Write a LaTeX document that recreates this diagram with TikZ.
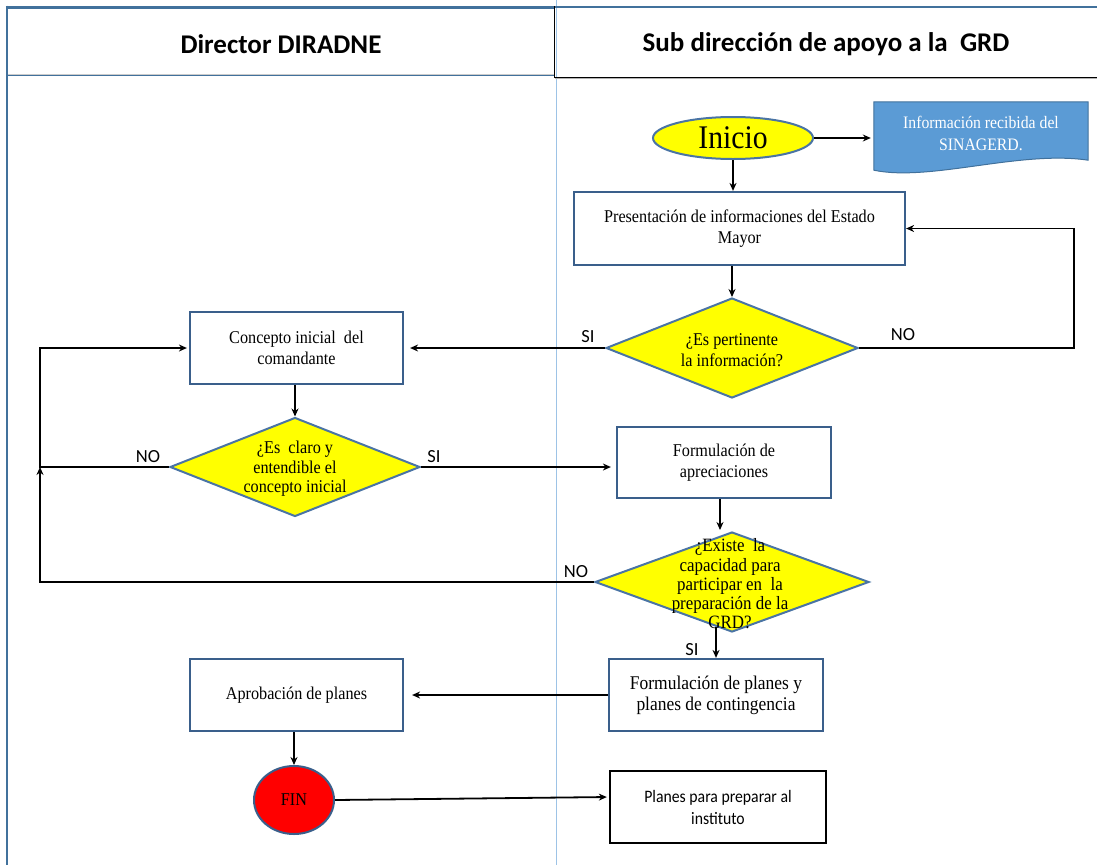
\documentclass[tikz,border=0pt]{standalone}
\usepackage{fontspec}
\setmainfont[FakeStretch=0.9]{Liberation Serif}
\newfontfamily\calfont{Carlito}
\newfontfamily\calnarrow[FakeStretch=0.9]{Carlito}
\usetikzlibrary{arrows.meta,shapes.geometric}

\definecolor{boxblue}{HTML}{3A5F8B}
\definecolor{dmdblue}{HTML}{4A74A4}
\definecolor{hdrblue}{HTML}{41719C}
\definecolor{docblue}{HTML}{5B9BD5}
\definecolor{laneblue}{HTML}{9DC3E6}
\definecolor{dyellow}{HTML}{FFFF00}

\tikzset{
  procbox/.style={draw=boxblue, line width=2.2pt, fill=white, inner sep=0pt,
    minimum width=#1, minimum height=72pt, align=center,
    font=\fontsize{18}{20.5}\selectfont},
  procbox/.default=214pt,
  decision/.style={diamond, draw=dmdblue, line width=2pt, fill=dyellow,
    inner sep=0pt},
  dtext/.style={align=center, inner sep=0pt, font=\fontsize{18}{20}\selectfont},
  flow/.style={line width=1.8pt, -{Stealth[length=8pt,width=7pt]}},
  branch/.style={inner sep=0pt, font=\calfont\fontsize{18.5}{20}\selectfont},
  lanehead/.style={inner sep=0pt, font=\calfont\bfseries\fontsize{27}{30}\selectfont},
}

\begin{document}
\begin{tikzpicture}[x=1pt, y=-1pt]
\useasboundingbox (0,0) rectangle (1097,865);

% ---- swimlane frame ----
\draw[laneblue, line width=1pt] (556,0) -- (556,865);
\draw[hdrblue, line width=2.5pt] (7,5.5) -- (7,865);
\draw[hdrblue, line width=3pt] (5.75,7.5) -- (555,7.5);
\draw[black!20, line width=1pt] (8,74) -- (555,74);
\draw[hdrblue, line width=1.2pt] (8,75.5) -- (555,75.5);
\draw[hdrblue, line width=2.5pt] (555,7) -- (1097,7);
\draw[black, line width=1pt] (554,6) -- (554,77) -- (1097,77);
\draw[black!30, line width=0.8pt] (555,78.5) -- (1097,78.5);

\node[lanehead] (h1) at (281,44) {Director DIRADNE};
\node[lanehead] (h2) at (826,44) {Sub dirección de apoyo a la\ \ GRD};

% ---- start and incoming document ----
\node[ellipse, draw=dmdblue, line width=2pt, fill=dyellow, inner sep=0pt,
      minimum width=160pt, minimum height=42pt,
      font=\fontsize{33}{35}\selectfont] (ini) at (733,138) {Inicio};

\node[inner sep=0pt, minimum width=214pt, minimum height=66pt] (doc) at (981,135) {};
\draw[draw=hdrblue, line width=1pt, fill=docblue]
  (doc.north west) -- (doc.north east) -- ([yshift=8pt]doc.south east)
  .. controls (1020,150) and (930,182) .. ([yshift=-2pt]doc.south west) -- cycle;
\node[align=center, text=white, inner sep=0pt,
      font=\fontsize{17.5}{22}\selectfont] (doct) at (981,133)
  {Información recibida del\\SINAGERD.};

% ---- process steps ----
\node[procbox=331pt, minimum height=73pt] (pres) at (739.5,228.5)
  {Presentación de informaciones del Estado\\Mayor};
\node[decision, minimum width=252pt, minimum height=100pt] (d1) at (732,348) {};
\node[dtext, font=\fontsize{18}{21}\selectfont] (d1t) at (732,350)
  {¿Es pertinente\\la información?};

\node[procbox=213pt] (conc) at (296.5,348) {Concepto inicial\ \ del\\comandante};
\node[decision, minimum width=250pt, minimum height=99pt] (d2) at (295,467) {};
\node[dtext, font=\fontsize{18}{19.5}\selectfont] (d2t) at (295,469)
  {¿Es\ \ claro y\\entendible el\\concepto inicial};

\node[procbox=214pt, minimum height=71pt] (form1) at (724,462.5)
  {Formulación de\\apreciaciones};
\node[decision, minimum width=274pt, minimum height=100pt] (d3) at (732,582) {};
\node[dtext, font=\fontsize{18.8}{19.3}\selectfont] (d3t) at (730,584)
  {¿Existe\ \ la\\capacidad para\\participar en\ \ la\\preparación de la\\GRD?};

\node[procbox=214pt, font=\fontsize{19.4}{21}\selectfont] (form2) at (716,695)
  {Formulación de planes y\\planes de contingencia};
\node[procbox=213pt] (apr) at (296.5,695) {Aprobación de planes};

\node[ellipse, draw=boxblue, line width=2pt, fill=red, inner sep=0pt,
      minimum width=80pt, minimum height=68pt,
      font=\fontsize{18}{20}\selectfont] (fin) at (294,800) {FIN};
\node[draw=black, line width=2.4pt, inner sep=0pt, minimum width=216pt,
      minimum height=72pt, align=center,
      font=\calnarrow\fontsize{17.5}{22}\selectfont] (plan) at (718,807)
  {Planes para preparar al\\instituto};

% ---- connectors ----
\draw[flow, shorten >=3pt] (ini.east) -- (ini.east -| doc.west);
\draw[flow] (ini.south) -- (ini.south |- pres.north);
\draw[flow] (d1.north |- pres.south) -- (d1.north);

\draw[flow] (d1.east) -- ++(215,0) |- (pres.east);
\node[branch] (no1) at (903,335) {NO};
\draw[flow, shorten >=6pt] (d1.west) -- (d1.west -| conc.east);
\node[branch] (si1) at (588,337) {SI};

\draw[flow] (conc.south -| d2.north) -- (d2.north);

\coordinate (lp) at (40,467);
\draw[flow, shorten >=5pt] (d2.east) -- (d2.east -| form1.west);
\node[branch] (si2) at (434,457) {SI};
\draw[flow, shorten >=2pt] (d2.west) -- (lp) |- (conc.west);
\node[branch] (no2) at (148,457) {NO};

\draw[flow, shorten >=1pt] ([xshift=-4pt]form1.south) -- ([xshift=-4pt]form1.south |- d3.north);

\draw[flow] (d3.west) -| (lp);
\node[branch] (no3) at (576,572) {NO};

\draw[flow] ([yshift=6pt]form2.north |- d3.south) -- (form2.north);
\node[branch] (si3) at (692,650) {SI};

\draw[flow, shorten >=8pt] (form2.west) -- (form2.west -| apr.east);
\draw[flow] (apr.south -| fin.north) -- (fin.north);
\draw[flow, shorten >=2pt] (fin.east) -- ([yshift=10pt]plan.west);

\end{tikzpicture}
\end{document}
